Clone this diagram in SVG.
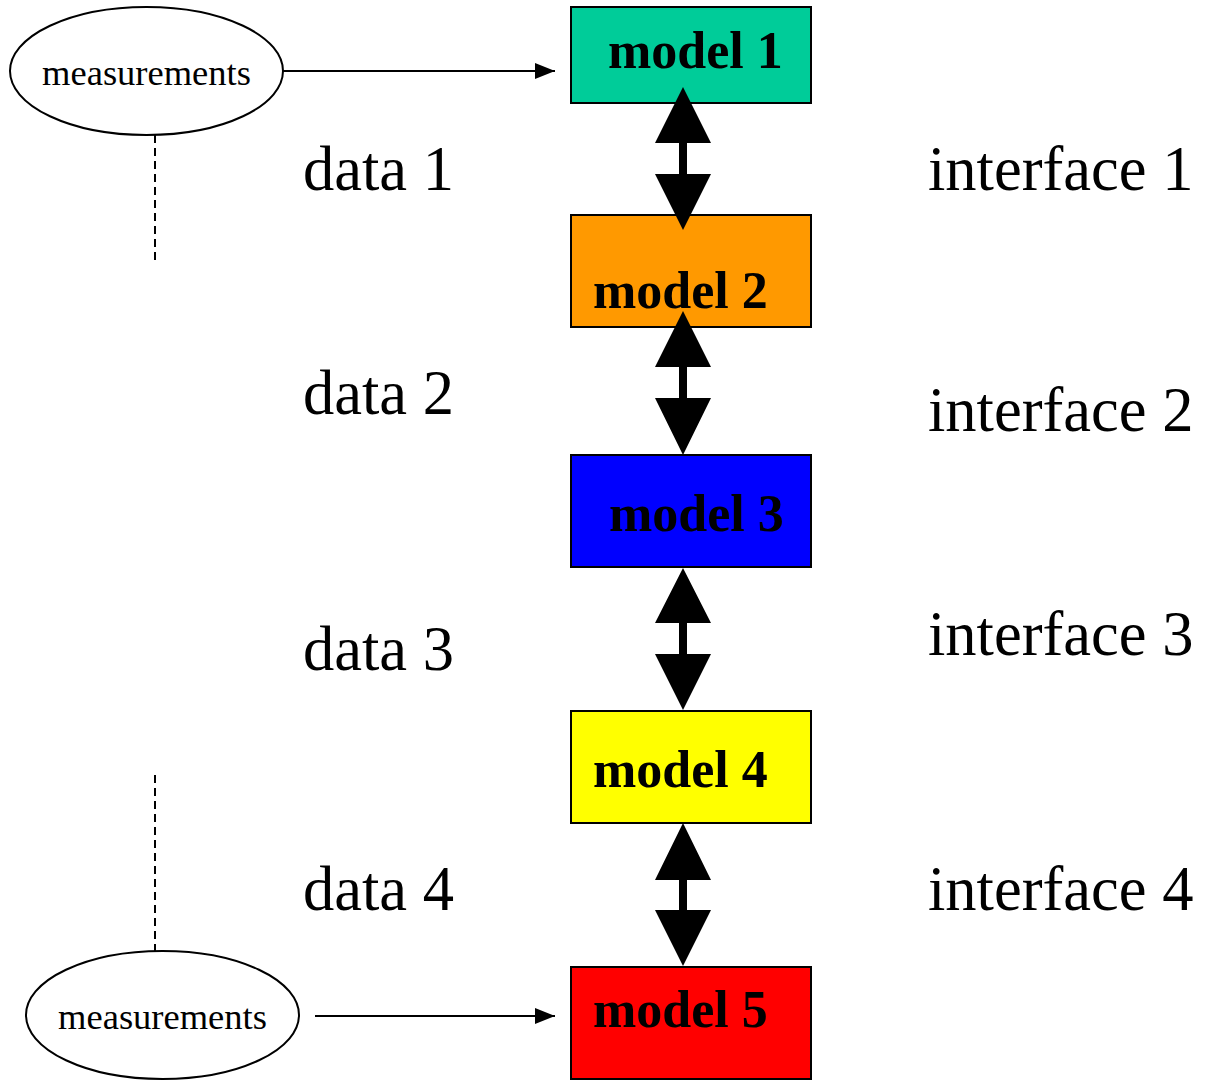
<svg xmlns="http://www.w3.org/2000/svg" width="1205" height="1080" viewBox="0 0 1205 1080">
<style>
.box{stroke:#000;stroke-width:2}
.ml{font-family:"Liberation Serif",serif;font-weight:bold;font-size:52px;fill:#000}
.big{font-family:"Liberation Serif",serif;font-size:62.5px;fill:#000}
.meas{font-family:"Liberation Serif",serif;font-size:36.5px;fill:#000}
.ell{fill:#fff;stroke:#000;stroke-width:2}
.dash{stroke:#000;stroke-width:2;stroke-dasharray:8,5;fill:none}
.thin{stroke:#000;stroke-width:2;fill:none}
</style>
<defs>
<marker id="ahs" markerWidth="20" markerHeight="16" refX="20" refY="8" orient="auto" markerUnits="userSpaceOnUse" viewBox="0 0 20 16">
<path d="M0,0 L20,8 L0,16 z" fill="#000"/>
</marker>
</defs>
<rect width="1205" height="1080" fill="#fff"/>
<g id="meas1">
<ellipse class="ell" cx="146.5" cy="71" rx="136.5" ry="64"/>
<text class="meas" x="146.5" y="85" text-anchor="middle">measurements</text>
</g>
<g id="meas2">
<ellipse class="ell" cx="162.5" cy="1015" rx="136.5" ry="64"/>
<text class="meas" x="162.5" y="1029" text-anchor="middle">measurements</text>
</g>
<g id="model1">
<rect class="box" x="571" y="7" width="240" height="96" fill="#00CC99"/>
<text class="ml" x="608" y="68">model 1</text>
</g>
<g id="model2">
<rect class="box" x="571" y="215" width="240" height="112" fill="#FF9900"/>
<text class="ml" x="593" y="308">model 2</text>
</g>
<g id="model3">
<rect class="box" x="571" y="455" width="240" height="112" fill="#0000FF"/>
<text class="ml" x="609" y="531">model 3</text>
</g>
<g id="model4">
<rect class="box" x="571" y="711" width="240" height="112" fill="#FFFF00"/>
<text class="ml" x="593" y="787">model 4</text>
</g>
<g id="model5">
<rect class="box" x="571" y="967" width="240" height="112" fill="#FF0000"/>
<text class="ml" x="593" y="1027">model 5</text>
</g>
<g id="connectors">
<line class="thin" x1="283" y1="71" x2="555" y2="71" marker-end="url(#ahs)"/>
<line class="thin" x1="315" y1="1016" x2="555" y2="1016" marker-end="url(#ahs)"/>
<line class="dash" x1="155" y1="135" x2="155" y2="263"/>
<line class="dash" x1="155" y1="775" x2="155" y2="951"/>
<path d="M683,87 L711,143 L687,143 L687,174 L711,174 L683,230 L655,174 L679,174 L679,143 L655,143 Z" fill="#000"/>
<path d="M683,311 L711,367 L687,367 L687,398 L711,398 L683,455 L655,398 L679,398 L679,367 L655,367 Z" fill="#000"/>
<path d="M683,568 L711,623 L687,623 L687,654 L711,654 L683,710 L655,654 L679,654 L679,623 L655,623 Z" fill="#000"/>
<path d="M683,823 L711,880 L687,880 L687,910 L711,910 L683,966 L655,910 L679,910 L679,880 L655,880 Z" fill="#000"/>
</g>
<g id="labels">
<text class="big" x="303" y="190">data 1</text>
<text class="big" x="303" y="414">data 2</text>
<text class="big" x="303" y="670">data 3</text>
<text class="big" x="303" y="910">data 4</text>
<text class="big" x="928" y="190">interface 1</text>
<text class="big" x="928" y="431">interface 2</text>
<text class="big" x="928" y="655">interface 3</text>
<text class="big" x="928" y="910">interface 4</text>
</g>
</svg>
